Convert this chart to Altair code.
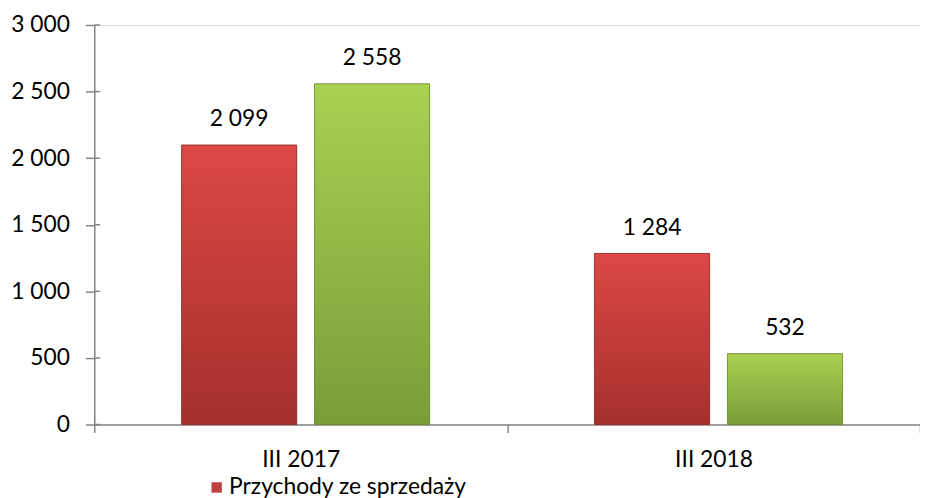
import altair as alt
import pandas as pd

categories = ["III 2017", "III 2018"]
series_names = ["Przychody ze sprzedaży", "Seria 2"]
red_values = [2099, 1284]
green_values = [2558, 532]
y_ticks = [0, 500, 1000, 1500, 2000, 2500, 3000]

rows = []
for i, c in enumerate(categories):
    rows.append({"kategoria": c, "seria": series_names[0], "wartosc": red_values[i]})
    rows.append({"kategoria": c, "seria": series_names[1], "wartosc": green_values[i]})
df = pd.DataFrame(rows)
ticks_df = pd.DataFrame({"wartosc": y_ticks})

FONT = "Lato"
FS = 23
GRAY = "#868686"

red_grad = alt.Gradient(
    gradient="linear", x1=0, y1=0, x2=0, y2=1,
    stops=[alt.GradientStop(color="#dc4845", offset=0),
           alt.GradientStop(color="#a5302d", offset=1)],
)
green_grad = alt.Gradient(
    gradient="linear", x1=0, y1=0, x2=0, y2=1,
    stops=[alt.GradientStop(color="#a9d152", offset=0),
           alt.GradientStop(color="#7a9c38", offset=1)],
)

x_enc = alt.X(
    "kategoria:N", sort=categories,
    scale=alt.Scale(paddingInner=0, paddingOuter=0, align=0.5),
    axis=alt.Axis(title=None, labelAngle=0, tickBand="extent", tickSize=8,
                  tickColor=GRAY, domainColor=GRAY, labelFontSize=FS, labelFont=FONT,
                  labelColor="#000000", labelPadding=16, tickWidth=1.5, domainWidth=1.5),
)
xo_enc = alt.XOffset("seria:N", sort=series_names,
                     scale=alt.Scale(paddingInner=0.134, paddingOuter=0.62, align=0.53))
y_scale = alt.Scale(domain=[0, 3000], nice=False)
y_enc = alt.Y(
    "wartosc:Q",
    scale=y_scale,
    axis=alt.Axis(title=None, values=y_ticks, format=",.0f",
                  grid=False, tickSize=9, tickColor=GRAY, domainColor=GRAY,
                  labelFontSize=FS, labelFont=FONT, labelColor="#000000", labelPadding=16,
                  tickWidth=1.5, domainWidth=1.5),
)

base = alt.Chart(df)

legend_bars = base.mark_bar().encode(
    x=x_enc, xOffset=xo_enc, y=y_enc,
    color=alt.Color(
        "seria:N", sort=series_names,
        scale=alt.Scale(domain=series_names, range=["#c0413e", "#92b848"]),
        legend=alt.Legend(title=None, values=[series_names[0]], orient="none",
                          legendX=112, legendY=455, symbolType="square", symbolSize=110,
                          symbolStrokeWidth=0, labelFontSize=FS, labelFont=FONT,
                          labelColor="#000000", padding=0, labelOffset=1, labelLimit=0),
    ),
)

red_bars = base.transform_filter(alt.datum.seria == series_names[0]).mark_bar(
    color=red_grad, stroke="#8f2826", strokeWidth=0.8
).encode(x=x_enc, xOffset=xo_enc, y=y_enc)

green_bars = base.transform_filter(alt.datum.seria == series_names[1]).mark_bar(
    color=green_grad, stroke="#6a8a30", strokeWidth=0.8
).encode(x=x_enc, xOffset=xo_enc, y=y_enc)

labels = base.mark_text(
    font=FONT, fontSize=FS, color="#000000", baseline="alphabetic", dy=-19
).encode(x=x_enc, xOffset=xo_enc, y=y_enc, text=alt.Text("wartosc:Q", format=",.0f"))

inner_ticks = alt.Chart(ticks_df).mark_rule(color=GRAY, strokeWidth=1.5).encode(
    y=alt.Y("wartosc:Q", scale=y_scale), x=alt.value(0), x2=alt.value(6)
)

chart = alt.layer(legend_bars, red_bars, green_bars, labels, inner_ticks).properties(
    width=833, height=403,
    autosize=alt.AutoSizeParams(type="none"),
    padding={"left": 87, "top": 15, "right": 0, "bottom": 72},
).configure_view(stroke=None).configure(background="white")

chart.save("out.html", embed_options={
    "renderer": "svg", "actions": False,
    "formatLocale": {"decimal": ",", "thousands": "\u00a0", "grouping": [3], "currency": ["", " zł"]},
})
